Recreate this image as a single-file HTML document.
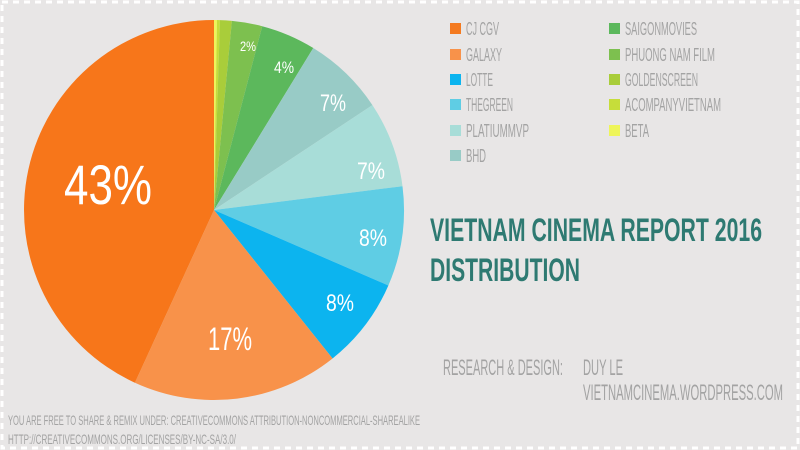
<!DOCTYPE html>
<html><head><meta charset="utf-8"><style>
html,body{margin:0;padding:0;background:#e8e6e6;}
svg{display:block}
text{font-family:"Liberation Sans",sans-serif;}
</style></head><body>
<svg width="800" height="450" viewBox="0 0 800 450" xmlns="http://www.w3.org/2000/svg">
<rect width="800" height="450" fill="#e8e6e6"/>
<rect x="2" y="2" width="796" height="446" fill="none" stroke="#ffffff" stroke-width="3" stroke-dasharray="6 5"/>
<g id="pie"></g>
<g fill="#fff">
<text x="64" y="204" font-size="56" textLength="88" lengthAdjust="spacingAndGlyphs">43%</text>
<text x="208" y="350" font-size="32" textLength="44" lengthAdjust="spacingAndGlyphs">17%</text>
<text x="326" y="311" font-size="24" textLength="28" lengthAdjust="spacingAndGlyphs">8%</text>
<text x="359" y="246" font-size="24" textLength="28" lengthAdjust="spacingAndGlyphs">8%</text>
<text x="357" y="179" font-size="24" textLength="28" lengthAdjust="spacingAndGlyphs">7%</text>
<text x="320" y="111" font-size="24" textLength="26" lengthAdjust="spacingAndGlyphs">7%</text>
<text x="274" y="73" font-size="17" textLength="20" lengthAdjust="spacingAndGlyphs">4%</text>
<text x="240" y="51" font-size="14" textLength="16" lengthAdjust="spacingAndGlyphs">2%</text>
</g>
<g font-size="18" fill="#a3a3a3">
<rect x="450" y="23" width="11" height="11" fill="#f47a20"/><text x="466" y="35" textLength="33" lengthAdjust="spacingAndGlyphs">CJ CGV</text>
<rect x="450" y="49" width="11" height="11" fill="#f8924a"/><text x="466" y="61" textLength="36" lengthAdjust="spacingAndGlyphs">GALAXY</text>
<rect x="450" y="74" width="11" height="11" fill="#0cb4ef"/><text x="466" y="86" textLength="27" lengthAdjust="spacingAndGlyphs">LOTTE</text>
<rect x="450" y="99" width="11" height="11" fill="#5fcde4"/><text x="466" y="111" textLength="47" lengthAdjust="spacingAndGlyphs">THEGREEN</text>
<rect x="450" y="125" width="11" height="11" fill="#a8ddd8"/><text x="466" y="137" textLength="63" lengthAdjust="spacingAndGlyphs">PLATIUMMVP</text>
<rect x="450" y="150" width="11" height="11" fill="#98cbc6"/><text x="466" y="162" textLength="20" lengthAdjust="spacingAndGlyphs">BHD</text>
<rect x="609" y="23" width="11" height="11" fill="#5cb85c"/><text x="625" y="35" textLength="72" lengthAdjust="spacingAndGlyphs">SAIGONMOVIES</text>
<rect x="609" y="49" width="11" height="11" fill="#7dc04f"/><text x="625" y="61" textLength="90" lengthAdjust="spacingAndGlyphs">PHUONG NAM FILM</text>
<rect x="609" y="74" width="11" height="11" fill="#a9cd3a"/><text x="625" y="86" textLength="73" lengthAdjust="spacingAndGlyphs">GOLDENSCREEN</text>
<rect x="609" y="99" width="11" height="11" fill="#c6dd3a"/><text x="625" y="111" textLength="96" lengthAdjust="spacingAndGlyphs">ACOMPANYVIETNAM</text>
<rect x="609" y="125" width="11" height="11" fill="#eef55a"/><text x="625" y="137" textLength="24" lengthAdjust="spacingAndGlyphs">BETA</text>
</g>
<g fill="#2e7a72" font-size="32" font-weight="bold">
<text x="430" y="241" textLength="332" lengthAdjust="spacingAndGlyphs">VIETNAM CINEMA REPORT 2016</text>
<text x="430" y="281" textLength="150" lengthAdjust="spacingAndGlyphs">DISTRIBUTION</text>
</g>
<g fill="#a3a3a3" font-size="22">
<text x="443" y="375" textLength="120" lengthAdjust="spacingAndGlyphs">RESEARCH &amp; DESIGN:</text>
<text x="583" y="375" textLength="40" lengthAdjust="spacingAndGlyphs">DUY LE</text>
<text x="583" y="400" textLength="200" lengthAdjust="spacingAndGlyphs">VIETNAMCINEMA.WORDPRESS.COM</text>
</g>
<g fill="#a3a3a3" font-size="14">
<text x="8" y="425" textLength="412" lengthAdjust="spacingAndGlyphs">YOU ARE FREE TO SHARE &amp; REMIX UNDER: CREATIVECOMMONS ATTRIBUTION-NONCOMMERCIAL-SHAREALIKE</text>
<text x="8" y="444" textLength="228" lengthAdjust="spacingAndGlyphs">HTTP://CREATIVECOMMONS.ORG/LICENSES/BY-NC-SA/3.0/</text>
</g>
</svg>
<script>
(function(){
var cx=214,cy=210,r=190;
var s=[[0,0.9,"#eef55a"],[0.9,1.8,"#c6dd3a"],[1.8,5.4,"#a9cd3a"],[5.4,14.7,"#7dc04f"],[14.7,31.5,"#5cb85c"],[31.5,56.5,"#98cbc6"],[56.5,82.8,"#a8ddd8"],[82.8,113.4,"#5fcde4"],[113.4,141.4,"#0cb4ef"],[141.4,204.6,"#f8924a"],[204.6,360,"#f7761a"]];
function p(a){a=a*Math.PI/180;return (cx+r*Math.sin(a)).toFixed(2)+","+(cy-r*Math.cos(a)).toFixed(2);}
var g=document.getElementById("pie"),h="";
s.forEach(function(x){var l=(x[1]-x[0])>180?1:0;h+='<path d="M'+cx+','+cy+' L'+p(x[0])+' A'+r+','+r+' 0 '+l+' 1 '+p(x[1])+' Z" fill="'+x[2]+'"/>';});
g.innerHTML=h;
})();
</script>
</body></html>
